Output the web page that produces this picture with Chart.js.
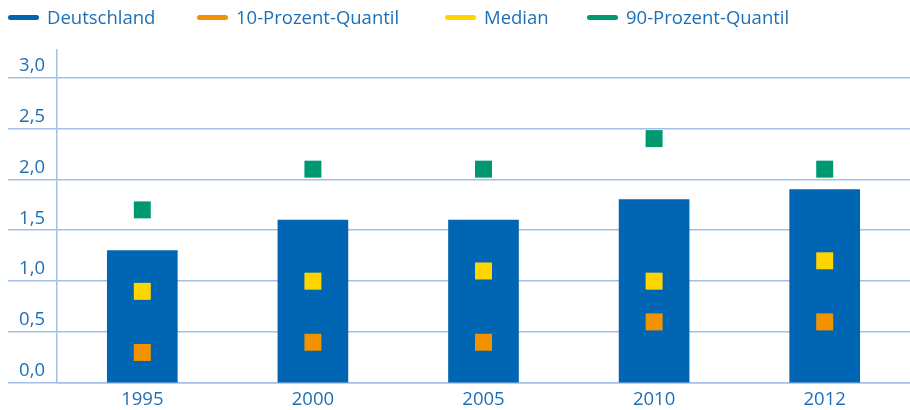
<!DOCTYPE html>
<html>
<head>
<meta charset="utf-8">
<script src="https://cdn.jsdelivr.net/npm/chart.js@4"></script>
<style>
  html, body { margin: 0; background: #fff; overflow: hidden; }
  #wrap { position: relative; width: 910px; height: 410px; }
  #myChart { display: block; }
  #legend { position: absolute; left: 0; top: 0; width: 910px; height: 40px; }
  .item { position: absolute; top: 6px; height: 24px; font-family: "Open Sans", sans-serif; font-size: 18.5px; color: #1d6fb8; }
  .item .ln { position: absolute; left: 0; top: 9px; width: 31px; height: 5px; border-radius: 3px; }
  .item .tx { position: absolute; left: 39px; top: -1px; white-space: nowrap; line-height: 24px; }
</style>
</head>
<body>
<div id="wrap">
  <canvas id="myChart" width="910" height="410"></canvas>
  <div id="legend"></div>
</div>
<script>
var years = ["1995", "2000", "2005", "2010", "2012"];
var deutschland = [1.3, 1.6, 1.6, 1.8, 1.9];
var quantil10 = [0.3, 0.4, 0.4, 0.6, 0.6];
var median = [0.9, 1.0, 1.1, 1.0, 1.2];
var quantil90 = [1.7, 2.1, 2.1, 2.4, 2.1];
var yTicks = [0, 0.5, 1.0, 1.5, 2.0, 2.5, 3.0];

var seriesNames = ["Deutschland", "10-Prozent-Quantil", "Median", "90-Prozent-Quantil"];
var seriesColors = ["#0066b3", "#f39200", "#ffd500", "#009870"];
var legendLeft = [8, 197, 445, 587];

// legend
var legend = document.getElementById("legend");
for (var i = 0; i < seriesNames.length; i++) {
  var item = document.createElement("div");
  item.className = "item";
  item.style.left = legendLeft[i] + "px";
  item.innerHTML = '<span class="ln" style="background:' + seriesColors[i] + '"></span><span class="tx">' + seriesNames[i] + '</span>';
  legend.appendChild(item);
}

function pointSet(label, data, color) {
  return {
    type: "line",
    label: label,
    data: data,
    showLine: false,
    pointStyle: "rect",
    pointRadius: 12,
    pointHoverRadius: 12,
    pointBorderWidth: 0,
    pointBackgroundColor: color,
    borderColor: color,
    backgroundColor: color,
    order: 0
  };
}

var gridColor = "#a3bfe6";
var textColor = "#1d6fb8";

var ctx = document.getElementById("myChart");
var chart = new Chart(ctx, {
  type: "bar",
  data: {
    labels: years,
    datasets: [
      {
        label: seriesNames[0],
        data: deutschland,
        backgroundColor: seriesColors[0],
        barThickness: 70,
        order: 10
      },
      pointSet(seriesNames[1], quantil10, seriesColors[1]),
      pointSet(seriesNames[2], median, seriesColors[2]),
      pointSet(seriesNames[3], quantil90, seriesColors[3])
    ]
  },
  options: {
    responsive: false,
    animation: false,
    layout: { autoPadding: false, padding: { top: 50, left: 0, right: 0, bottom: 0 } },
    plugins: {
      legend: { display: false },
      tooltip: { enabled: false }
    },
    scales: {
      x: {
        afterFit: function(scale) {
          scale.height = 27;
          scale.paddingLeft = 0;
          scale.paddingRight = 0;
        },
        grid: { display: false, drawTicks: false },
        border: { color: gridColor, width: 1.5 },
        ticks: {
          color: textColor,
          padding: 6,
          font: { family: "Open Sans", size: 18.5 }
        }
      },
      y: {
        min: 0,
        max: 3.27,
        afterFit: function(scale) {
          scale.width = 57;
          scale.paddingTop = 0;
          scale.paddingBottom = 0;
        },
        afterBuildTicks: function(scale) {
          scale.ticks = yTicks.map(function(v) { return { value: v }; });
        },
        grid: {
          color: gridColor,
          lineWidth: 1.5,
          tickLength: 49,
          tickColor: gridColor
        },
        border: { color: gridColor, width: 1.5 },
        ticks: {
          color: textColor,
          padding: -37,
          labelOffset: -12,
          font: { family: "Open Sans", size: 18.5 },
          callback: function(v) { return Number(v).toFixed(1).replace(".", ","); }
        }
      }
    }
  }
});
</script>
</body>
</html>
